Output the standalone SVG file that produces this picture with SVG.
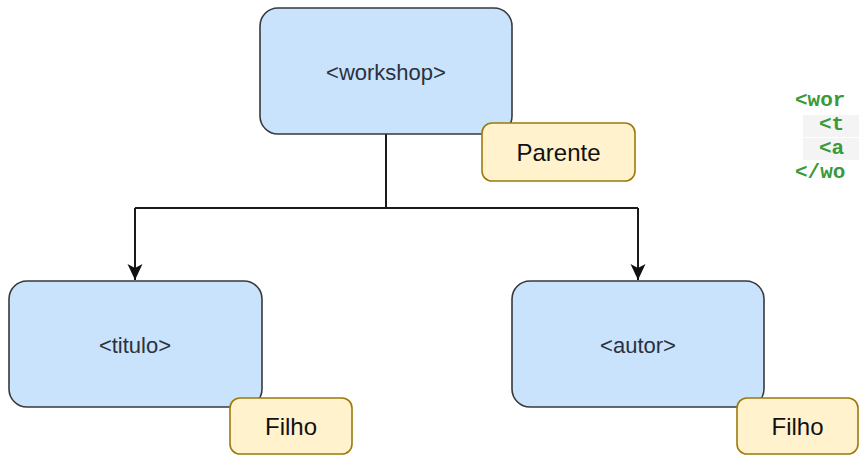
<svg xmlns="http://www.w3.org/2000/svg" width="859" height="457" viewBox="0 0 859 457">
<defs>
<style>
.node{fill:#c8e3fb;stroke:#36393d;stroke-width:1.6}
.lbl{fill:#fff2cc;stroke:#9c7a0c;stroke-width:1.6}
.nt{font-family:"Liberation Sans",Arial,sans-serif;font-size:22px;fill:#2b3140;text-anchor:middle}
.lt{font-family:"Liberation Sans",Arial,sans-serif;font-size:24px;fill:#111;text-anchor:middle}
.code{font-family:"Liberation Mono","DejaVu Sans Mono",monospace;font-size:21px;font-weight:bold;fill:#3a9a3a}
.edge{fill:none;stroke:#1a1a1a;stroke-width:2}
</style>
<marker id="arrow" viewBox="0 0 16 16" refX="16" refY="8" markerWidth="16" markerHeight="16" markerUnits="userSpaceOnUse" orient="auto">
<path d="M0,0.5 L16,8 L0,15.5 L4,8 z" fill="#111"/>
</marker>
</defs>
<rect width="859" height="457" fill="#ffffff"/>
<g id="code">
<rect x="803" y="115" width="56" height="22" fill="#f4f4f4"/>
<rect x="803" y="138" width="56" height="22" fill="#f4f4f4"/>
<text class="code" x="795" y="106">&lt;wor</text>
<text class="code" x="819" y="130">&lt;t</text>
<text class="code" x="819" y="154">&lt;a</text>
<text class="code" x="795" y="178">&lt;/wo</text>
</g>
<g id="connectors">
<path class="edge" d="M386,134 V208"/>
<path class="edge" d="M135,208 H638"/>
<path class="edge" d="M135,208 V280" marker-end="url(#arrow)"/>
<path class="edge" d="M638,208 V280" marker-end="url(#arrow)"/>
</g>
<g id="workshop">
<rect class="node" x="260" y="8" width="252" height="126" rx="18"/>
<text class="nt" x="386" y="80">&lt;workshop&gt;</text>
</g>
<g id="titulo">
<rect class="node" x="9" y="281" width="253" height="126" rx="18"/>
<text class="nt" x="135" y="353">&lt;titulo&gt;</text>
</g>
<g id="autor">
<rect class="node" x="512" y="281" width="252" height="126" rx="18"/>
<text class="nt" x="638" y="353">&lt;autor&gt;</text>
</g>
<g id="parente">
<rect class="lbl" x="482" y="123" width="153" height="58" rx="10"/>
<text class="lt" x="558.5" y="161">Parente</text>
</g>
<g id="filho1">
<rect class="lbl" x="230" y="398" width="122" height="56" rx="10"/>
<text class="lt" x="291" y="435">Filho</text>
</g>
<g id="filho2">
<rect class="lbl" x="737" y="398" width="121" height="56" rx="10"/>
<text class="lt" x="797.5" y="435">Filho</text>
</g>
</svg>
